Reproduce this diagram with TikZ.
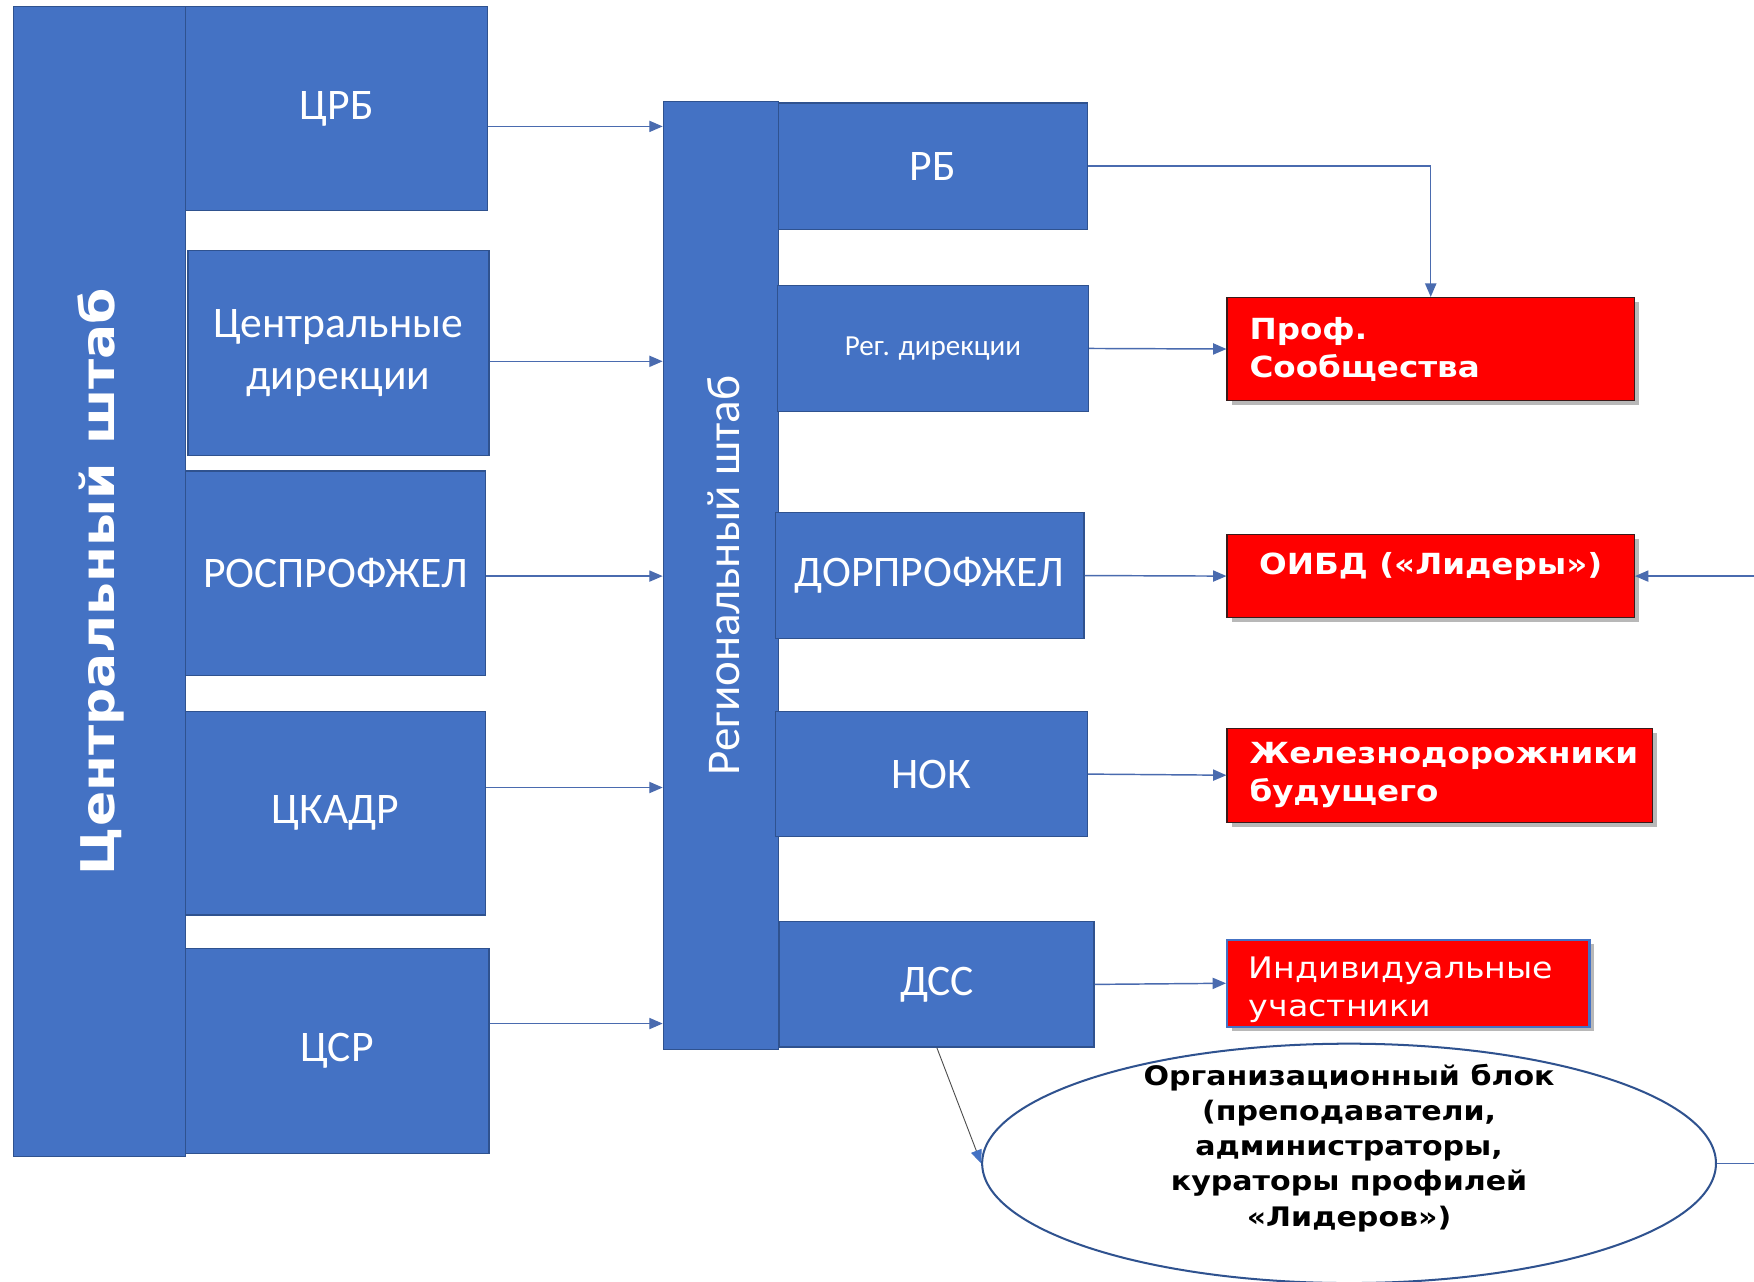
\documentclass[tikz,border=0pt]{standalone}
\usepackage{fontspec}
\setmainfont{Carlito}
\newfontfamily\wide{DejaVu Sans}
\newfontfamily\widex[FakeStretch=1.12]{DejaVu Sans}
\usetikzlibrary{arrows.meta,shapes.geometric,shadows}
\definecolor{obl}{HTML}{4472C4}
\definecolor{obd}{HTML}{2F528F}
\definecolor{arc}{HTML}{4A6BAF}
\definecolor{rbd}{HTML}{3A1A1A}
\begin{document}
\begin{tikzpicture}[x=1pt,y=-1pt,
  bbox/.style={draw=obd, line width=1.2pt, fill=obl, text=white, align=center, inner sep=0pt},
  btxt/.style={font=\fontsize{39}{46}\selectfont},
  rbox/.style={draw=rbd, line width=1.2pt, fill=red, text=white, inner xsep=20pt, inner ysep=0pt,
    drop shadow={shadow xshift=4pt, shadow yshift=-4pt, opacity=0.28, fill=black}},
  rtxt/.style={font=\widex\bfseries\fontsize{26}{34}\selectfont},
  arr/.style={draw=arc, line width=1.3pt, -{Triangle[length=12pt,width=10pt]}},
  plain/.style={draw=arc, line width=1.3pt}]
\useasboundingbox (0,0) rectangle (1568,1146);
\fill[white] (0,0) rectangle (1568,1146);

% central column
\node[bbox, minimum width=154pt, minimum height=1028pt] (cst) at (89,520) {};
\node[rotate=90, text=white, font=\widex\bfseries\fontsize{41.5}{48}\selectfont] (csttext) at (90,520) {Центральный штаб};
\node[bbox, btxt, minimum width=270pt, minimum height=182pt] (crb) at (301,97) {ЦРБ};
\node[bbox, btxt, minimum width=269pt, minimum height=183pt] (cdir) at (302.5,315.5) {Центральные\\дирекции};
\node[bbox, btxt, minimum width=268pt, minimum height=183pt] (rosp) at (300,512.5) {РОСПРОФЖЕЛ};
\node[bbox, btxt, minimum width=268pt, minimum height=182pt] (ckadr) at (300,727) {ЦКАДР};
\node[bbox, btxt, minimum width=271pt, minimum height=183pt] (csr) at (301.5,939.5) {ЦСР};

% regional column
\node[bbox, minimum width=103pt, minimum height=847pt] (reg) at (644.5,514.5) {};
\node[rotate=90, text=white, font=\fontsize{42}{48}\selectfont] (regtext) at (647,514.5) {Региональный штаб};
\node[bbox, btxt, minimum width=276pt, minimum height=113pt] (rb) at (834,148.5) {РБ};
\node[bbox, font=\fontsize{26}{30}\selectfont, minimum width=278pt, minimum height=113pt] (rdir) at (834,311.5) {Рег. дирекции};
\node[bbox, btxt, minimum width=276pt, minimum height=113pt] (dorp) at (831,514.5) {ДОРПРОФЖЕЛ};
\node[bbox, btxt, minimum width=279pt, minimum height=112pt] (nok) at (832.5,692) {НОК};
\node[bbox, btxt, minimum width=281pt, minimum height=112pt] (dss) at (837.5,880) {ДСС};

% red boxes
\node[rbox, rtxt, minimum width=364pt, minimum height=92pt, text width=324pt, align=left] (prof) at (1279,312) {Проф.\\Сообщества};
\node[rbox, minimum width=364pt, minimum height=74pt] (oibd) at (1279,515) {};
\node[rtxt, text=white] (oibdtext) at (1279,506) {ОИБД («Лидеры»)};
\node[rbox, rtxt, minimum width=380pt, minimum height=84pt, text width=340pt, align=left] (zhd) at (1287,693) {Железнодорожники\\будущего};
\node[rbox, draw=obl, line width=2pt, minimum width=324pt, minimum height=78pt] (ind) at (1259,879) {};
\node[text=white, font=\widex\fontsize{26.5}{34}\selectfont, text width=300pt, align=left, anchor=west] (indtext) at (1113,885) {Индивидуальные\\участники};

% ellipse
\node[ellipse, draw=obd, line width=1.8pt, fill=white, minimum width=656pt, minimum height=214pt, inner sep=0pt] (org) at (1206,1040) {};
\node[font=\widex\bfseries\fontsize{24}{31.5}\selectfont, align=center] (orgtext) at (1206,1026) {Организационный блок\\(преподаватели,\\администраторы,\\кураторы профилей\\«Лидеров»)};

% connectors left
\draw[arr] (crb.east |- 0,113) -- (reg.west |- 0,113);
\draw[arr] (cdir.east |- 0,323) -- (reg.west |- 0,323);
\draw[arr] (rosp.east |- 0,515) -- (reg.west |- 0,515);
\draw[arr] (ckadr.east |- 0,704) -- (reg.west |- 0,704);
\draw[arr] (csr.east |- 0,915) -- (reg.west |- 0,915);

% connectors right
\draw[arr] (rb.east) -| (prof.north);
\draw[arr] (rdir.east) -- (prof.west);
\draw[arr] (dorp.east) -- (oibd.west);
\draw[arr] (nok.east) -- (zhd.west);
\draw[arr] (dss.east) -- (ind.west);
\coordinate (rin) at (1568,515);
\coordinate (rout) at (1568,1040);
\draw[arr] (rin) -- (oibd.east);
\draw[plain] (org.east) -- (rout);
\draw[draw=black!70, line width=0.8pt, -{Triangle[length=12pt,width=10pt,color=obl]}] (dss.south) -- (org.west);
\end{tikzpicture}
\end{document}
